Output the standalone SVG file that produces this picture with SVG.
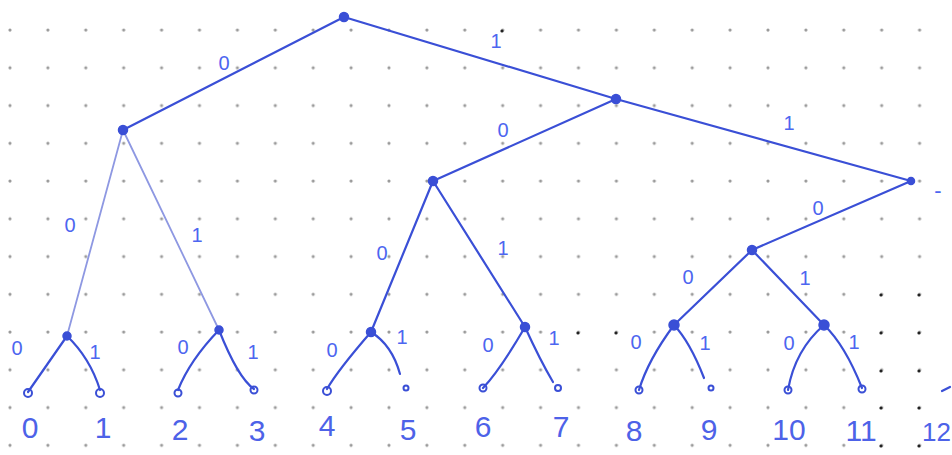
<svg xmlns="http://www.w3.org/2000/svg" width="952" height="455" viewBox="0 0 952 455">
<style>
.edge{fill:none;stroke:#3a4fd6;stroke-width:2.2;stroke-linecap:round}
.faint{stroke:#8e98e2;stroke-width:1.8}
.inner{fill:#3a4fd6;stroke:#3a4fd6;stroke-width:1.5}
.leaf{fill:none;stroke:#3a4fd6;stroke-width:2}
.el{font-family:"Liberation Sans",sans-serif;font-size:20px;fill:#4d66f0;text-anchor:middle}
.ll{font-family:"Liberation Sans",sans-serif;font-size:30px;fill:#4d62e8;text-anchor:middle}
.bd{fill:#222}
</style>
<defs>
<pattern id="dots" patternUnits="userSpaceOnUse" x="-8.95" y="11.1" width="37.9" height="37.75">
<circle cx="18.95" cy="18.9" r="1.6" fill="#9a9a9a"/>
</pattern>
</defs>
<rect width="952" height="455" fill="#ffffff"/>
<rect x="0" y="22" width="952" height="433" fill="url(#dots)"/>
<g id="darkdots">
<circle class="bd" cx="502" cy="31" r="1.6"/>
<circle class="bd" cx="578" cy="333" r="1.6"/>
<circle class="bd" cx="616" cy="333" r="1.6"/>
<circle class="bd" cx="881" cy="295" r="1.6"/>
<circle class="bd" cx="919" cy="295" r="1.6"/>
<circle class="bd" cx="881" cy="333" r="1.6"/>
<circle class="bd" cx="919" cy="333" r="1.6"/>
<circle class="bd" cx="881" cy="371" r="1.6"/>
<circle class="bd" cx="919" cy="371" r="1.6"/>
<circle class="bd" cx="881" cy="408" r="1.6"/>
<circle class="bd" cx="919" cy="408" r="1.6"/>
<circle class="bd" cx="881" cy="446" r="1.6"/>
<circle class="bd" cx="919" cy="446" r="1.6"/>
</g>
<g id="connectors">
<path class="edge" d="M344,17 L123,130"/>
<path class="edge" d="M344,17 L616,99"/>
<path class="edge" d="M616,99 L433,181"/>
<path class="edge" d="M616,99 L911,181"/>
<path class="edge" d="M911,181 L752,250"/>
<path class="edge faint" d="M123,130 L67,336"/>
<path class="edge faint" d="M123,130 L219,330"/>
<path class="edge" d="M433,181 L371,332"/>
<path class="edge" d="M433,181 L525,327"/>
<path class="edge" d="M752,250 L674,325"/>
<path class="edge" d="M752,250 L824,325"/>
<path class="edge" d="M67,336 L28,392"/>
<path class="edge" d="M67,336 Q90,358 100,390"/>
<path class="edge" d="M219,330 Q190,360 178,390"/>
<path class="edge" d="M219,330 Q238,378 254,389"/>
<path class="edge" d="M371,332 Q338,370 327,389"/>
<path class="edge" d="M371,332 Q392,345 400,374"/>
<path class="edge" d="M525,327 Q500,370 483,388"/>
<path class="edge" d="M525,327 Q540,360 553,382"/>
<path class="edge" d="M674,325 Q648,360 639,390"/>
<path class="edge" d="M674,325 Q690,342 704,378"/>
<path class="edge" d="M824,325 Q795,350 788,390"/>
<path class="edge" d="M824,325 Q845,345 862,388"/>
</g>
<g id="n-root"><circle class="inner" cx="344" cy="17" r="4.5"/></g>
<g id="n-0"><circle class="inner" cx="123" cy="130" r="4.5"/></g>
<g id="n-1"><circle class="inner" cx="616" cy="99" r="4.5"/></g>
<g id="n-10"><circle class="inner" cx="433" cy="181" r="4.5"/></g>
<g id="n-11"><circle class="inner" cx="911" cy="181" r="3.5"/><text x="938" y="198" font-family="Liberation Sans,sans-serif" font-size="22" fill="#4d66f0" text-anchor="middle">-</text></g>
<g id="n-110"><circle class="inner" cx="752" cy="250" r="4.5"/></g>
<g id="n-00"><circle class="inner" cx="67" cy="336" r="4"/></g>
<g id="n-01"><circle class="inner" cx="219" cy="330" r="4"/></g>
<g id="n-100"><circle class="inner" cx="371" cy="332" r="4.5"/></g>
<g id="n-101"><circle class="inner" cx="525" cy="327" r="4.5"/></g>
<g id="n-1100"><circle class="inner" cx="674" cy="325" r="5"/></g>
<g id="n-1101"><circle class="inner" cx="824" cy="325" r="5"/></g>
<g id="leaf-0"><circle class="leaf" cx="28" cy="393" r="4"/><text class="ll" x="30" y="438">0</text></g>
<g id="leaf-1"><circle class="leaf" cx="100" cy="393" r="4"/><text class="ll" x="103" y="438">1</text></g>
<g id="leaf-2"><circle class="leaf" cx="178" cy="393" r="3.5"/><text class="ll" x="180" y="440">2</text></g>
<g id="leaf-3"><circle class="leaf" cx="254" cy="390" r="3.5"/><text class="ll" x="257" y="441">3</text></g>
<g id="leaf-4"><circle class="leaf" cx="327" cy="391" r="4"/><text class="ll" x="327" y="436">4</text></g>
<g id="leaf-5"><circle class="leaf" cx="406" cy="388" r="2.5"/><text class="ll" x="408" y="440">5</text></g>
<g id="leaf-6"><circle class="leaf" cx="483" cy="388" r="3.5"/><text class="ll" x="483" y="437">6</text></g>
<g id="leaf-7"><circle class="leaf" cx="558" cy="388" r="3"/><text class="ll" x="561" y="437">7</text></g>
<g id="leaf-8"><circle class="leaf" cx="639" cy="390" r="3.5"/><text class="ll" x="634" y="441">8</text></g>
<g id="leaf-9"><circle class="leaf" cx="711" cy="388" r="2.5"/><text class="ll" x="709" y="440">9</text></g>
<g id="leaf-10"><circle class="leaf" cx="788" cy="390" r="3.5"/><text class="ll" x="789" y="440">10</text></g>
<g id="leaf-11"><circle class="leaf" cx="862" cy="389" r="3.5"/><text class="ll" x="861" y="441">11</text></g>
<g id="leaf-12"><path class="edge" d="M942,391 L950,387" stroke-width="2"/><text class="ll" x="951" y="441" style="text-anchor:end;font-size:26px">12</text></g>
<g id="edge-labels">
<text class="el" x="224" y="70">0</text>
<text class="el" x="496" y="48">1</text>
<text class="el" x="503" y="137">0</text>
<text class="el" x="789" y="130">1</text>
<text class="el" x="818" y="215">0</text>
<text class="el" x="70" y="232">0</text>
<text class="el" x="197" y="242">1</text>
<text class="el" x="382" y="260">0</text>
<text class="el" x="503" y="255">1</text>
<text class="el" x="688" y="284">0</text>
<text class="el" x="805" y="285">1</text>
<text class="el" x="17" y="355">0</text>
<text class="el" x="95" y="359">1</text>
<text class="el" x="183" y="354">0</text>
<text class="el" x="253" y="359">1</text>
<text class="el" x="332" y="357">0</text>
<text class="el" x="402" y="344">1</text>
<text class="el" x="488" y="352">0</text>
<text class="el" x="554" y="345">1</text>
<text class="el" x="636" y="349">0</text>
<text class="el" x="705" y="350">1</text>
<text class="el" x="789" y="350">0</text>
<text class="el" x="854" y="349">1</text>
</g>
</svg>
